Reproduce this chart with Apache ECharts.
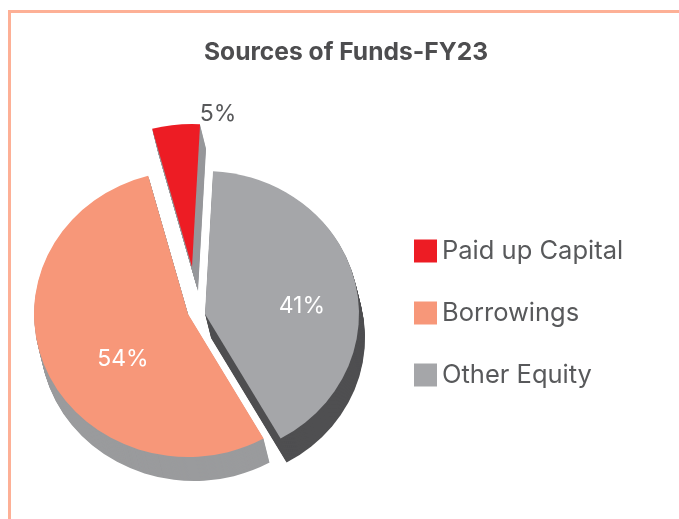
<!DOCTYPE html>
<html><head><meta charset="utf-8">
<style>html,body{margin:0;padding:0;background:#fff}#c{width:679px;height:519px}</style>
<script src="https://cdn.jsdelivr.net/npm/echarts@6/dist/echarts.min.js"></script>
</head><body><div id="c"></div>
<script>
const titleText = 'Sources of Funds-FY23';
const categories = ['Paid up Capital', 'Borrowings', 'Other Equity'];
const values = [5, 54, 41];
const faceColors = ['#ED1C24', '#F79779', '#A5A6A9'];
const wallColors = ['#97989B', '#9A9B9D', '#4F4F51'];
const labelColors = ['#58595B', '#FFFFFF', '#FFFFFF'];
const centers = [[192, 267], [188, 314], [205, 314]];
const labelShift = [[97, 15], [9, 15], [19, 10]];
const radius = 154;
const flatten = 143 / 154;
const depthX = 6, depthY = 24;
const font = 'Inter';

function slicePie(owner, dx, dy, colors, withLabel, z) {
  return {
    type: 'pie', radius: [0, radius], clockwise: false, startAngle: 87, z,
    center: [centers[owner][0] + dx, centers[owner][1] + dy],
    silent: true, animation: false, avoidLabelOverlap: false, minShowLabelAngle: 0,
    labelLine: { show: false },
    labelLayout: withLabel ? { dx: labelShift[owner][0], dy: labelShift[owner][1] } : undefined,
    data: categories.map((name, i) => ({
      name, value: values[i],
      itemStyle: { color: i === owner ? colors[i] : 'rgba(0,0,0,0)' },
      label: {
        show: withLabel && i === owner,
        position: owner === 0 ? 'outside' : 'inner',
        formatter: '{d}%', fontFamily: font, fontSize: 23,
        color: labelColors[i]
      }
    }))
  };
}
const series = [];
categories.forEach((_, owner) => {
  for (let k = depthY; k > 0; k--) {
    series.push(slicePie(owner, depthX * k / depthY, k, wallColors, false, 2));
  }
});
categories.forEach((_, owner) => series.push(slicePie(owner, 0, 0, faceColors, true, 3)));

const chart = echarts.init(document.getElementById('c'), null, { renderer: 'canvas' });
chart.setOption({
  animation: false,
  backgroundColor: '#fff',
  title: {
    text: titleText, left: 341, top: 35, textAlign: 'center',
    textStyle: { fontFamily: font, fontWeight: 'bold', fontSize: 24.6, color: '#4D4D4F' }
  },
  legend: {
    orient: 'vertical', left: 409, top: 233, icon: 'rect',
    itemWidth: 23, itemHeight: 23, itemGap: 36, selectedMode: false,
    textStyle: { fontFamily: font, fontSize: 25.5, lineHeight: 23, color: '#58595B' },
    data: categories.map((name, i) => ({ name, itemStyle: { color: faceColors[i] } }))
  },
  graphic: [
    { type: 'rect', shape: { x: 8, y: 10, width: 671, height: 3 }, style: { fill: '#FDB096' }, silent: true },
    { type: 'rect', shape: { x: 8, y: 10, width: 3, height: 509 }, style: { fill: '#FDB096' }, silent: true }
  ],
  series
});
// The reference pie is drawn in slight perspective: flatten each sector about its own centre.
const zr = chart.getZr();
zr.storage.getDisplayList(true).forEach(el => {
  if (el.shape && el.shape.r0 !== undefined && el.shape.cx !== undefined) {
    el.originX = el.shape.cx; el.originY = el.shape.cy; el.scaleY = flatten; el.markRedraw();
  }
});
zr.refreshImmediately();
</script></body></html>
